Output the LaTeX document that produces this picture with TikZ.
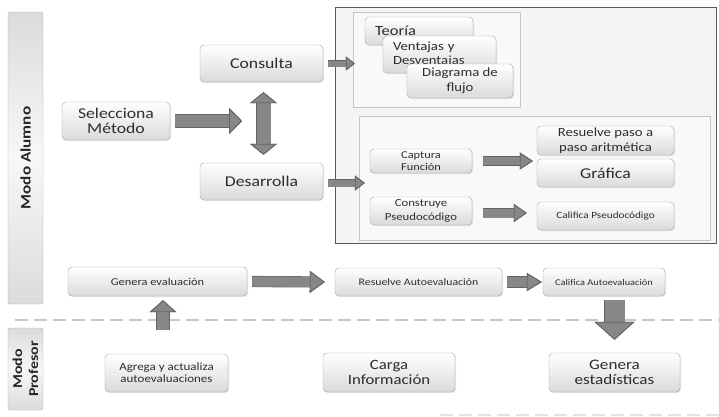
\documentclass[tikz,border=0pt]{standalone}
\usepackage{fontspec}
\setmainfont{Carlito}[FakeStretch=1.18]
\usetikzlibrary{arrows.meta,shadows}
\definecolor{arrowgray}{RGB}{135,135,135}
\definecolor{arrowedge}{RGB}{100,100,100}
\definecolor{boxedge}{RGB}{165,165,165}
\definecolor{boxfill}{RGB}{218,218,218}
\definecolor{txtgray}{RGB}{45,45,45}
\tikzset{
  box/.style={draw=boxedge, rounded corners=4pt, top color=white, bottom color=boxfill,
    align=center, text=txtgray, inner sep=1pt,
    drop shadow={opacity=0.2, shadow xshift=1pt, shadow yshift=-1pt}},
  grp/.style={draw=gray!45, fill=gray!5, inner sep=0pt},
  bar/.style={rotate=90, draw=gray!60, rounded corners=2pt, top color=gray!28,
    bottom color=gray!28, middle color=gray!6, align=center, text=black!85},
  big/.style={font=\fontsize{15}{15.5}\selectfont},
  mid/.style={font=\fontsize{12.5}{14.5}\selectfont},
  small/.style={font=\fontsize{10.5}{12.5}\selectfont},
  tiny/.style={font=\fontsize{9.5}{12}\selectfont},
  blk/.style n args={3}{draw=arrowgray, line width=#1,
    preaction={draw=arrowedge, line width=#1+1.2pt},
    -{Triangle[width=#2, length=#3, line width=0.8pt, color=arrowedge, fill=arrowgray]}},
  dblk/.style={draw=arrowgray, line width=14pt,
    preaction={draw=arrowedge, line width=15.2pt},
    {Triangle[width=27pt, length=11pt, line width=0.8pt, color=arrowedge, fill=arrowgray]}-{Triangle[width=27pt, length=11pt, line width=0.8pt, color=arrowedge, fill=arrowgray]}},
  sepline/.style={draw=gray!45, line width=2pt, dash pattern=on 13pt off 6pt}
}
\begin{document}
\begin{tikzpicture}[x=1pt,y=-1pt]
  \useasboundingbox[fill=white] (0,0) rectangle (719,416);

  % modos
  \node[bar, minimum width=292, minimum height=35, font=\bfseries\fontsize{14.5}{16}\selectfont] (alumno) at (25.5,158) {Modo Alumno};
  \node[bar, minimum width=82, minimum height=35, font=\bfseries\fontsize{13.5}{16}\selectfont] (profesor) at (25.5,369) {Modo\\Profesor};
  \draw[sepline] (15,320) -- (719,320);
  \draw[sepline, draw=gray!22] (440,415) -- (719,415);

  % zona de consulta y desarrollo
  \node[draw=gray!70!black, fill=gray!9, line width=0.8pt, minimum width=381, minimum height=236, inner sep=0pt] (zona) at (525.5,125) {};
  \node[grp, minimum width=167, minimum height=95] (grpconsulta) at (436.5,59.5) {};
  \node[grp, minimum width=351, minimum height=124] (grpdesarrollo) at (534.5,178) {};

  \node[box, big, minimum width=123, minimum height=37] (consulta) at (261.5,63.5) {Consulta};
  \node[box, big, minimum width=108, minimum height=38, font=\fontsize{15}{15}\selectfont] (selecciona) at (116,121) {Selecciona\\Método};
  \node[box, big, minimum width=123, minimum height=37] (desarrolla) at (261.5,181.5) {Desarrolla};
  \coordinate (cruce) at (242,121);

  \node[box, font=\fontsize{14}{15}\selectfont, text width=88, align=left, inner xsep=10pt, minimum height=28] (teoria) at (419,31) {Teoría};
  \node[box, mid, text width=93, align=left, inner xsep=10pt, minimum height=37] (ventajas) at (439.5,54.5) {Ventajas y\\Desventajas};
  \node[box, mid, font=\fontsize{12.5}{15}\selectfont, minimum width=106, minimum height=34] (diagrama) at (460,81) {Diagrama de\\flujo};

  \node[box, small, font=\fontsize{10.5}{12}\selectfont, minimum width=102, minimum height=24] (captura) at (421,161) {Captura\\Función};
  \node[box, mid, font=\fontsize{12.5}{15}\selectfont, minimum width=137, minimum height=29] (resuelvepaso) at (605.5,140.5) {Resuelve paso a\\paso aritmética};
  \node[box, big, minimum width=137, minimum height=28] (grafica) at (605.5,173) {Gráfica};
  \node[box, small, font=\fontsize{10.8}{14}\selectfont, minimum width=102, minimum height=28] (construye) at (421,211) {Construye\\Pseudocódigo};
  \node[box, tiny, minimum width=137, minimum height=28] (calificapseudo) at (605.5,216) {Califica Pseudocódigo};

  % evaluacion
  \node[box, small, minimum width=179, minimum height=29] (genevalua) at (157.5,281.5) {Genera evaluación};
  \node[box, font=\fontsize{10}{12}\selectfont, minimum width=167, minimum height=28] (resuelveauto) at (418.5,282) {Resuelve Autoevaluación};
  \node[box, font=\fontsize{8.8}{10}\selectfont, minimum width=122, minimum height=28] (calificaauto) at (604,282) {Califica Autoevaluación};

  \node[box, font=\fontsize{11}{12}\selectfont, minimum width=123, minimum height=38] (agrega) at (166.5,373) {Agrega y actualiza\\autoevaluaciones};
  \node[box, font=\fontsize{14.2}{15}\selectfont, minimum width=132, minimum height=39] (carga) at (389,372.5) {Carga\\Información};
  \node[box, font=\fontsize{14.5}{15}\selectfont, minimum width=131, minimum height=39] (generaest) at (614.5,372.5) {Genera\\estadísticas};

  % flechas
  \draw[blk={12pt}{26pt}{13pt}] ([xshift=5pt]selecciona.east) -- (cruce);
  \draw[dblk] ([xshift=2pt,yshift=-10pt]consulta.south) -- ([xshift=2pt,yshift=8pt]desarrolla.north);
  \draw[blk={6pt}{14pt}{9pt}] ([xshift=5pt]consulta.east) -- ([xshift=2pt]grpconsulta.west |- consulta.east);
  \draw[blk={7pt}{15pt}{10pt}] ([xshift=5pt,yshift=-1.5pt]desarrolla.east) -- ([xshift=6pt,yshift=-1.5pt]grpdesarrollo.west |- desarrolla.east);
  \draw[blk={8pt}{17pt}{13pt}] ([xshift=11pt]captura.east) -- ([xshift=-4pt]grafica.west |- captura.east);
  \draw[blk={9pt}{18pt}{13pt}] ([xshift=11pt,yshift=-2pt]construye.east) -- ([xshift=-10pt,yshift=-2pt]calificapseudo.west |- construye.east);
  \draw[blk={10pt}{22pt}{15pt}] ([xshift=5pt]genevalua.east) -- ([xshift=-10pt]resuelveauto.west);
  \draw[blk={10pt}{18pt}{15pt}] ([xshift=5pt]resuelveauto.east) -- ([xshift=-1pt]calificaauto.west);
  \draw[blk={20pt}{40pt}{18pt}] ([yshift=-4pt]generaest.north |- calificaauto.south) -- ([yshift=13pt]generaest.north);
  \draw[blk={12pt}{27pt}{12pt}] ([xshift=-3.5pt,yshift=24pt]agrega.north) -- ([xshift=-3.5pt,yshift=-4pt]agrega.north |- genevalua.south);
\end{tikzpicture}
\end{document}
